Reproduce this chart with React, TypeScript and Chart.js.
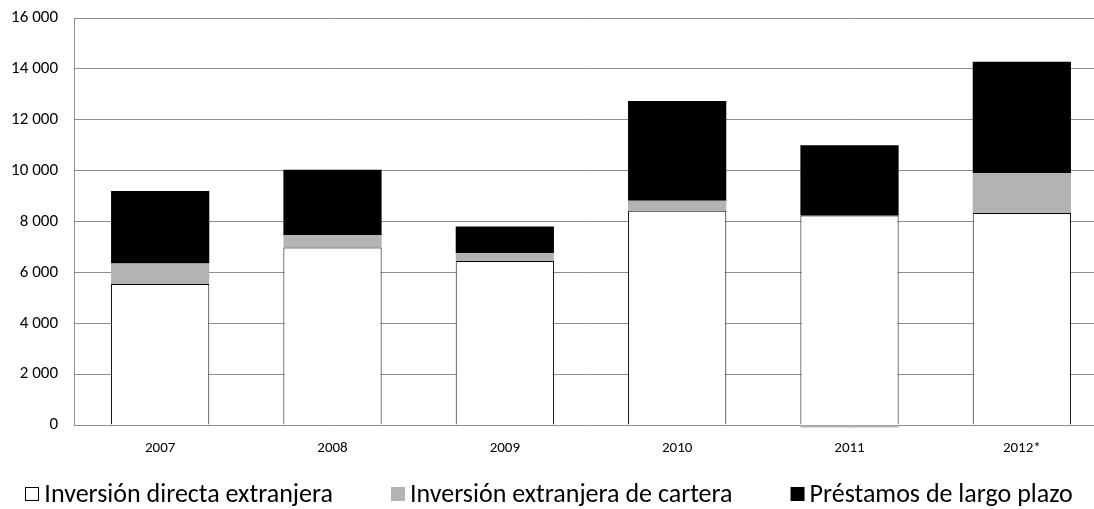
import React, { useEffect, useRef } from 'react';
import { Chart, registerables } from 'chart.js';

Chart.register(...registerables);

const categories = ['2007', '2008', '2009', '2010', '2011', '2012*'];
const directaExtranjera = [5545, 6975, 6450, 8420, 8236, 8330];
const carteraExtranjera = [805, 490, 300, 400, -100, 1580];
const prestamosLargoPlazo = [2845, 2570, 1050, 3920, 2760, 4370];
const seriesNames = ['Inversión directa extranjera', 'Inversión extranjera de cartera', 'Préstamos de largo plazo'];
const yMin = 0;
const yMax = 16000;
const yStep = 2000;

const FONT = 'Carlito, "Liberation Sans Narrow", "DejaVu Sans Condensed", sans-serif';

function formatThousands(v: number): string {
  if (Math.abs(v) < 1000) return String(v);
  const th = Math.floor(v / 1000);
  const rest = String(Math.abs(v) % 1000).padStart(3, '0');
  return th + ' ' + rest;
}

const legendPlugin = {
  id: 'customLegend',
  afterDraw(chart: any) {
    const ctx = chart.ctx;
    ctx.save();
    ctx.font = `26px ${FONT}`;
    const items = chart.data.datasets.map((ds: any) => ({
      text: ds.label,
      fill: ds.backgroundColor,
      stroke: ds.borderWidth > 0 ? ds.borderColor : null,
    }));
    const box = 14;
    const gapText = 5;
    const gapItems = 58;
    const widths = items.map((it: any) => box + gapText + ctx.measureText(it.text).width);
    const total = widths.reduce((a: number, b: number) => a + b, 0) + gapItems * (items.length - 1);
    let x = 549 - total / 2;
    const y = 494;
    items.forEach((it: any, i: number) => {
      ctx.fillStyle = it.fill;
      ctx.fillRect(x, y - box / 2, box, box);
      if (it.stroke) {
        ctx.strokeStyle = it.stroke;
        ctx.lineWidth = 1;
        ctx.strokeRect(Math.round(x) + 0.5, Math.round(y - box / 2) + 0.5, box - 1, box - 1);
      }
      ctx.fillStyle = '#000';
      ctx.textAlign = 'left';
      ctx.textBaseline = 'middle';
      ctx.fillText(it.text, x + box + gapText, y + 1);
      x += widths[i] + gapItems;
    });
    ctx.restore();
  },
};

export default function App() {
  const ref = useRef<HTMLCanvasElement | null>(null);

  useEffect(() => {
    if (!ref.current) return;
    const chart = new Chart(ref.current, {
      type: 'bar',
      data: {
        labels: categories,
        datasets: [
          {
            label: seriesNames[0],
            data: directaExtranjera,
            backgroundColor: '#ffffff',
            borderColor: '#000000',
            borderWidth: 1,
            borderSkipped: 'bottom',
          },
          {
            label: seriesNames[1],
            data: carteraExtranjera,
            backgroundColor: '#b3b3b3',
            borderWidth: 0,
            clip: false as any,
          },
          {
            label: seriesNames[2],
            data: prestamosLargoPlazo,
            backgroundColor: '#000000',
            borderWidth: 0,
          },
        ],
      },
      options: {
        responsive: false,
        animation: false,
        events: [],
        layout: { padding: { top: 18, right: 2, bottom: 44, left: 0 } },
        datasets: { bar: { categoryPercentage: 1, barPercentage: 0.57 } },
        plugins: {
          legend: { display: false },
          tooltip: { enabled: false },
          title: { display: false },
        },
        scales: {
          x: {
            stacked: true,
            grid: { display: false, drawTicks: false },
            border: { display: false },
            ticks: { color: '#000', font: { family: FONT, size: 15 }, padding: 14, maxRotation: 0 },
            afterFit: (s: any) => { s.height = 40; s.paddingLeft = 0; s.paddingRight = 0; },
          },
          y: {
            stacked: true,
            min: yMin,
            max: yMax,
            grid: { color: '#8f8f8f', lineWidth: 1, drawTicks: false },
            border: { display: true, color: '#8f8f8f', width: 1 },
            ticks: {
              stepSize: yStep,
              color: '#000',
              font: { family: FONT, size: 17 },
              padding: 16,
              callback: (v: any) => formatThousands(Number(v)),
            },
            afterFit: (s: any) => { s.width = 74; s.paddingTop = 0; s.paddingBottom = 0; },
          },
        },
      },
      plugins: [legendPlugin],
    });
    return () => chart.destroy();
  }, []);

  return (
    <div style={{ position: 'fixed', left: 0, top: 0, width: 1094, height: 509, overflow: 'hidden', background: '#fff' }}>
      <canvas ref={ref} width={1110} height={509} style={{ display: 'block' }} />
    </div>
  );
}
